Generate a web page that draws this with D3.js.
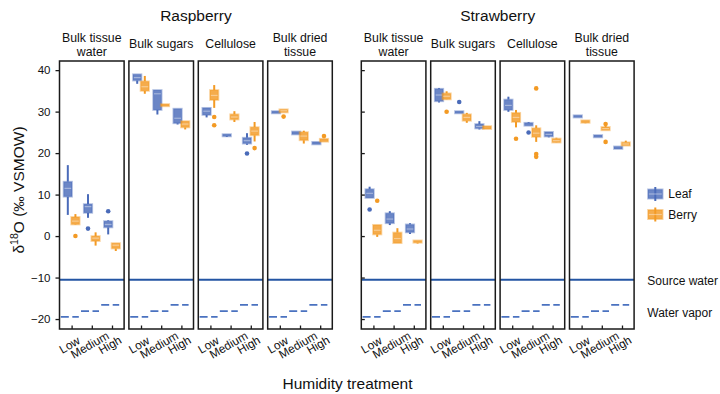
<!DOCTYPE html>
<html>
<head>
<meta charset="utf-8">
<script src="https://cdn.jsdelivr.net/npm/d3@7"></script>
<style>
  body { margin: 0; background: #fff; }
  text { font-family: "Liberation Sans", Arial, Helvetica, sans-serif; fill: #111; }
</style>
</head>
<body>
<script>
// ---- data -------------------------------------------------------------
const fruits = ["Raspberry", "Strawberry"];
const fractions = ["Bulk tissue water", "Bulk sugars", "Cellulose", "Bulk dried tissue"];
const fractionLines = [["Bulk tissue", "water"], ["Bulk sugars"], ["Cellulose"], ["Bulk dried", "tissue"]];
const treatments = ["Low", "Medium", "High"];
const tissues = ["Leaf", "Berry"];
const yTicks = [-20, -10, 0, 10, 20, 30, 40];

// five-number summaries [lower whisker, Q1, median, Q3, upper whisker]
// rows: fraction; columns: Low, Medium, High
const raspberryLeaf = [
  [[5.1, 9.5, 11.5, 13.1, 17.1], [4.4, 5.6, 7.1, 7.7, 10.1], [0.4, 2.1, 2.8, 3.6, 3.8]],
  [[36.7, 37.5, 38.2, 39.0, 39.0], [29.3, 30.4, 34.3, 35.2, 35.2], [26.9, 27.2, 28.4, 30.7, 30.7]],
  [[28.6, 29.2, 30.1, 30.9, 30.9], [23.9, 24.1, 24.3, 24.5, 24.5], [22.0, 22.3, 23.0, 23.7, 24.8]],
  [[29.6, 29.6, 29.85, 30.1, 30.1], [24.5, 24.5, 24.85, 25.2, 25.2], [22.1, 22.1, 22.4, 22.7, 22.7]]
];
const raspberryBerry = [
  [[2.7, 2.8, 3.6, 4.6, 5.3], [-2.3, -1.2, -0.5, 0.0, 0.9], [-3.6, -3.0, -2.2, -1.7, -1.7]],
  [[34.3, 35.0, 36.0, 37.3, 38.6], [31.3, 31.3, 31.5, 31.8, 31.8], [25.7, 26.2, 27.0, 27.7, 27.7]],
  [[30.9, 32.8, 33.9, 35.2, 36.4], [27.5, 28.1, 28.7, 29.35, 30.1], [22.8, 24.3, 25.3, 26.25, 27.5]],
  [[29.8, 29.8, 30.2, 30.55, 30.55], [22.3, 23.1, 24.1, 25.05, 25.4], [22.75, 22.75, 23.1, 23.45, 23.45]]
];
const strawberryLeaf = [
  [[9.2, 9.2, 10.3, 11.3, 11.9], [2.65, 3.1, 4.1, 5.5, 6.0], [0.5, 0.9, 1.7, 2.8, 3.1]],
  [[32.2, 32.5, 34.0, 35.5, 35.7], [29.6, 29.6, 29.85, 30.1, 30.1], [25.7, 25.95, 26.4, 27.0, 27.7]],
  [[29.95, 30.4, 31.5, 32.9, 33.6], [26.6, 26.6, 26.95, 27.3, 27.5], [23.8, 24.0, 24.5, 25.1, 25.1]],
  [[28.6, 28.6, 28.85, 29.1, 29.1], [23.8, 23.8, 24.1, 24.35, 24.35], [21.0, 21.0, 21.3, 21.6, 21.6]]
];
const strawberryBerry = [
  [[-0.2, 0.4, 1.4, 2.7, 2.7], [-1.7, -1.7, -0.6, 0.85, 1.9], [-1.8, -1.6, -1.3, -1.05, -1.05]],
  [[32.9, 32.95, 33.7, 34.4, 34.9], [27.3, 27.8, 28.6, 29.35, 29.7], [25.8, 25.8, 26.15, 26.5, 26.5]],
  [[26.2, 27.5, 28.6, 29.7, 30.4], [22.7, 23.9, 24.8, 26.0, 26.7], [22.5, 22.55, 23.0, 23.5, 23.7]],
  [[27.2, 27.3, 27.6, 27.9, 27.9], [25.5, 25.5, 25.9, 26.3, 26.6], [21.8, 21.8, 22.2, 22.6, 23.0]]
];

// individual outlying samples: [fruit, fraction index, tissue, treatment, value]
const outliers = [
  ["Raspberry", 0, "Leaf", "Medium", 1.8],
  ["Raspberry", 0, "Leaf", "High", 6.0],
  ["Raspberry", 0, "Berry", "Low", 0.0],
  ["Raspberry", 2, "Berry", "Low", 28.7],
  ["Raspberry", 2, "Berry", "Low", 26.7],
  ["Raspberry", 2, "Leaf", "High", 19.9],
  ["Raspberry", 2, "Berry", "High", 21.2],
  ["Raspberry", 3, "Berry", "Low", 28.8],
  ["Raspberry", 3, "Berry", "High", 24.1],
  ["Strawberry", 0, "Leaf", "Low", 6.4],
  ["Strawberry", 0, "Berry", "Low", 8.5],
  ["Strawberry", 1, "Leaf", "Medium", 32.3],
  ["Strawberry", 1, "Berry", "Low", 29.95],
  ["Strawberry", 2, "Berry", "Low", 23.45],
  ["Strawberry", 2, "Leaf", "Medium", 24.95],
  ["Strawberry", 2, "Berry", "Medium", 35.6],
  ["Strawberry", 2, "Berry", "Medium", 19.8],
  ["Strawberry", 2, "Berry", "Medium", 19.1],
  ["Strawberry", 3, "Berry", "Medium", 27.0],
  ["Strawberry", 3, "Berry", "Medium", 22.7]
];

const sourceWater = -10.5;
const waterVapor = [-19.5, -18.1, -16.6];   // Low, Medium, High

const summaries = {
  Raspberry: { Leaf: raspberryLeaf, Berry: raspberryBerry },
  Strawberry: { Leaf: strawberryLeaf, Berry: strawberryBerry }
};

// ---- layout -----------------------------------------------------------
const W = 720, H = 394;
const colors = { Leaf: "#4a6bb9", Berry: "#f39a24" };
const sourceColor = "#2355a3";
const vaporColor = "#4a72c0";

const svg = d3.select("body").append("svg").attr("width", W).attr("height", H);

const y = d3.scaleLinear().domain([-22.4, 42.2]).range([329, 61]);
const fruitRange = { Raspberry: [59.5, 332.3], Strawberry: [361.3, 634.1] };
const dodge = d3.scaleOrdinal().domain(tissues).range([-3.8, 3.8]);
const boxW = 8.4;

function drawBox(g, cx, s, color) {
  const [lo, q1, med, q3, hi] = s;
  g.append("line").attr("x1", cx).attr("x2", cx).attr("y1", y(hi)).attr("y2", y(q3))
    .attr("stroke", color).attr("stroke-width", 2);
  g.append("line").attr("x1", cx).attr("x2", cx).attr("y1", y(q1)).attr("y2", y(lo))
    .attr("stroke", color).attr("stroke-width", 2);
  const top = y(q3), h = Math.max(y(q1) - y(q3), 2.2);
  const mid = (y(q1) + y(q3)) / 2;
  g.append("rect").attr("x", cx - boxW / 2).attr("width", boxW)
    .attr("y", h === 2.2 ? mid - 1.1 : top).attr("height", h)
    .attr("fill", color).attr("fill-opacity", 0.82)
    .attr("stroke", color).attr("stroke-opacity", 0.42).attr("stroke-width", 1.8);
  if (y(q1) - y(q3) > 3) {
    g.append("line").attr("x1", cx - boxW / 2 + 0.8).attr("x2", cx + boxW / 2 - 0.8)
      .attr("y1", y(med)).attr("y2", y(med))
      .attr("stroke", "#fff").attr("stroke-opacity", 0.38).attr("stroke-width", 1.2);
  }
}

fruits.forEach(fruit => {
  const xf = d3.scaleBand().domain(fractions).range(fruitRange[fruit]).paddingInner(0.069);
  const bw = xf.bandwidth();
  const xt = d3.scalePoint().domain(treatments).range([0, bw]).padding(0.6);

  // fruit title
  svg.append("text")
    .attr("x", (fruitRange[fruit][0] + fruitRange[fruit][1]) / 2).attr("y", 20.5)
    .attr("text-anchor", "middle").attr("font-size", 15.5).text(fruit);

  fractions.forEach((frac, fi) => {
    const g = svg.append("g").attr("transform", `translate(${xf(frac)},0)`);

    // strip label
    const lines = fractionLines[fi];
    const baseY = lines.length === 2 ? [41.5, 55.8] : [48];
    lines.forEach((ln, li) => {
      g.append("text").attr("x", bw / 2).attr("y", baseY[li])
        .attr("text-anchor", "middle").attr("font-size", 12.3).text(ln);
    });

    // source water
    g.append("line").attr("x1", 0).attr("x2", bw)
      .attr("y1", y(sourceWater)).attr("y2", y(sourceWater))
      .attr("stroke", sourceColor).attr("stroke-width", 2);

    // water vapor, one dashed segment per treatment
    treatments.forEach((t, ti) => {
      g.append("line").attr("x1", xt(t) - 10.8).attr("x2", xt(t) + 7.2)
        .attr("y1", y(waterVapor[ti])).attr("y2", y(waterVapor[ti]))
        .attr("stroke", vaporColor).attr("stroke-width", 1.8)
        .attr("stroke-dasharray", "8,3.5");
    });

    // boxes
    tissues.forEach(tis => {
      treatments.forEach((t, ti) => {
        drawBox(g, xt(t) + dodge(tis), summaries[fruit][tis][fi][ti], colors[tis]);
      });
    });

    // outliers
    g.selectAll("circle.out")
      .data(outliers.filter(o => o[0] === fruit && o[1] === fi))
      .join("circle").attr("class", "out")
      .attr("cx", d => xt(d[3]) + dodge(d[2])).attr("cy", d => y(d[4]))
      .attr("r", 2.3).attr("fill", d => colors[d[2]]);

    // frame
    g.append("rect").attr("x", 0).attr("y", 61).attr("width", bw).attr("height", 268)
      .attr("fill", "none").attr("stroke", "#1a1a1a").attr("stroke-width", 1.5);

    // x ticks and labels
    const xa = g.append("g").attr("transform", "translate(0,329)")
      .call(d3.axisBottom(xt).tickSize(-3.5).tickFormat(""));
    xa.select(".domain").remove();
    xa.selectAll(".tick line").attr("stroke", "#1a1a1a").attr("stroke-width", 1.3);
    treatments.forEach(t => {
      g.append("text").attr("transform", `translate(${xt(t) - 2},345) rotate(-30)`)
        .attr("text-anchor", "middle").attr("dominant-baseline", "central")
        .attr("font-size", 11.8).text(t);
    });

    // y axis
    if (fi === 0) {
      if (fruit === "Raspberry") {
        const ya = g.append("g").call(d3.axisLeft(y).tickValues(yTicks).tickSize(4).tickPadding(5));
        ya.select(".domain").remove();
        ya.selectAll(".tick line").attr("stroke", "#1a1a1a").attr("stroke-width", 1.3);
        ya.selectAll(".tick text").attr("font-size", 11.5).attr("fill", "#111")
          .style("font-family", '"Liberation Sans", Arial, sans-serif');
      } else {
        const ya = g.append("g").call(d3.axisRight(y).tickValues(yTicks).tickSize(3.5).tickFormat(""));
        ya.select(".domain").remove();
        ya.selectAll(".tick line").attr("stroke", "#1a1a1a").attr("stroke-width", 1.3);
      }
    }
  });
});

// axis titles
const yt = svg.append("text").attr("transform", "translate(23.5,190) rotate(-90)")
  .attr("text-anchor", "middle").attr("font-size", 15.5);
yt.append("tspan").text("δ");
yt.append("tspan").attr("font-size", 10.5).attr("dy", -6).text("18");
yt.append("tspan").attr("dy", 6).text("O (‰ VSMOW)");

svg.append("text").attr("x", 347.5).attr("y", 389).attr("text-anchor", "middle")
  .attr("font-size", 15.5).text("Humidity treatment");

// legend
const legend = svg.append("g");
tissues.forEach((tis, i) => {
  const cy = 194 + i * 20.5;
  const c = colors[tis];
  legend.append("line").attr("x1", 655.3).attr("x2", 655.3).attr("y1", cy - 7).attr("y2", cy + 7)
    .attr("stroke", c).attr("stroke-width", 2);
  legend.append("rect").attr("x", 648).attr("y", cy - 4.6).attr("width", 14.6).attr("height", 9.2)
    .attr("fill", c).attr("fill-opacity", 0.82)
    .attr("stroke", c).attr("stroke-opacity", 0.42).attr("stroke-width", 1.8);
  legend.append("line").attr("x1", 648.8).attr("x2", 661.8).attr("y1", cy).attr("y2", cy)
    .attr("stroke", "#fff").attr("stroke-opacity", 0.38).attr("stroke-width", 1.2);
  legend.append("text").attr("x", 668.3).attr("y", cy + 4.2).attr("font-size", 12).text(tis);
});
legend.append("text").attr("x", 647.3).attr("y", 285).attr("font-size", 12).text("Source water");
legend.append("text").attr("x", 647.3).attr("y", 316.7).attr("font-size", 12).text("Water vapor");
</script>
</body>
</html>
